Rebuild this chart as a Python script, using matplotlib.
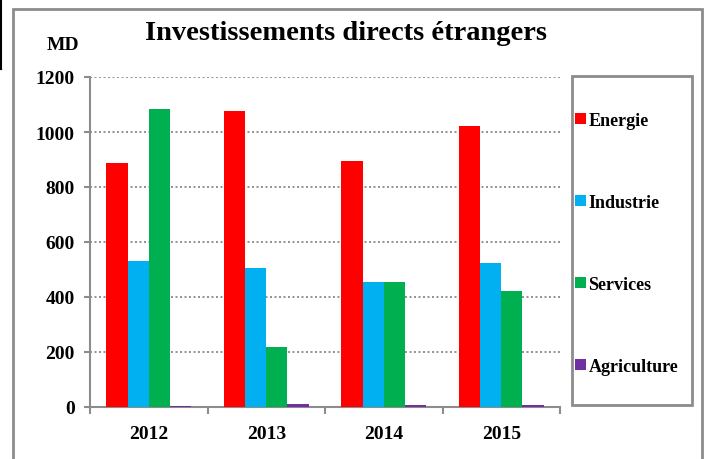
import matplotlib
matplotlib.use("Agg")
import matplotlib.pyplot as plt
from matplotlib.patches import Rectangle
from matplotlib.lines import Line2D
import numpy as np

years = ["2012", "2013", "2014", "2015"]
series_names = ["Energie", "Industrie", "Services", "Agriculture"]
energie = [887, 1076, 893, 1021]
industrie = [531, 505, 454, 523]
services = [1083, 218, 453, 421]
agriculture = [2, 10, 6, 7]
colors = ["#FF0000", "#00B0F0", "#00B050", "#7030A0"]
yticks = [0, 200, 400, 600, 800, 1000, 1200]

plt.rcParams['font.family'] = ['Liberation Serif', 'DejaVu Serif']
plt.rcParams['font.weight'] = 'bold'

W, H = 708, 460
fig = plt.figure(figsize=(W / 100, H / 100), dpi=100)

def fx(px):
    return px / W

def fy(py):
    return 1 - py / H

# outer frame
fig.add_artist(Rectangle((fx(13), fy(470)), fx(702) - fx(13), fy(10) - fy(470),
                         transform=fig.transFigure, fill=False, edgecolor="#8c8c8c", lw=2, clip_on=False))
fig.add_artist(Line2D([fx(1), fx(1)], [fy(0), fy(70)], transform=fig.transFigure, color="black", lw=1.5))
fig.add_artist(Line2D([fx(0), fx(1)], [fy(70), fy(70)], transform=fig.transFigure, color="black", lw=1.5))

ax = fig.add_axes([fx(90), fy(408), fx(560) - fx(90), fy(78) - fy(408)])

x = np.arange(len(years))
w = 0.18
data = [energie, industrie, services, agriculture]
handles = []
for i, (vals, c, name) in enumerate(zip(data, colors, series_names)):
    b = ax.bar(x + (i - 1.5) * w, vals, width=w, color=c, label=name, zorder=3)
    handles.append(b)

ax.set_xlim(-0.5, 3.5)
ax.set_ylim(0, 1200)
ax.set_yticks(yticks)
ax.set_yticklabels([str(v) for v in yticks], fontsize=14, fontweight='bold')
ax.set_xticks(x)
ax.set_xticklabels(years, fontsize=14, fontweight='bold')
ax.set_xticks(np.arange(-0.5, 3.6, 1), minor=True)
ax.tick_params(axis='x', which='major', length=0, pad=13)
ax.tick_params(axis='x', which='minor', length=5, color="#8c8c8c", width=1.5)
ax.tick_params(axis='y', length=4, color="#8c8c8c", width=1.5, pad=7)

for s in ["top", "right"]:
    ax.spines[s].set_visible(False)
for s in ["left", "bottom"]:
    ax.spines[s].set_color("#8c8c8c")
    ax.spines[s].set_linewidth(1.5)

for v in yticks[1:]:
    ax.axhline(v, color="#808080", lw=1.2, ls=(0, (1.2, 1.5)), zorder=1)

fig.text(fx(346), fy(33), "Investissements directs étrangers", ha="center", va="center",
         fontsize=20.5, fontweight="bold")
fig.text(fx(63), fy(45), "MD", ha="center", va="center", fontsize=14, fontweight="bold")

# legend box
fig.add_artist(Rectangle((fx(572), fy(406)), fx(692) - fx(572), fy(77) - fy(406),
                         transform=fig.transFigure, fill=False, edgecolor="#8c8c8c", lw=2))
leg = fig.legend(handles=handles, labels=series_names, loc="upper left",
                 bbox_to_anchor=(fx(575), fy(113)), frameon=False,
                 prop={'size': 13, 'weight': 'bold'}, handlelength=0.6, handleheight=0.6,
                 handletextpad=0.15, labelspacing=3.6, borderpad=0, borderaxespad=0)

fig.savefig("out.png", dpi=100)
